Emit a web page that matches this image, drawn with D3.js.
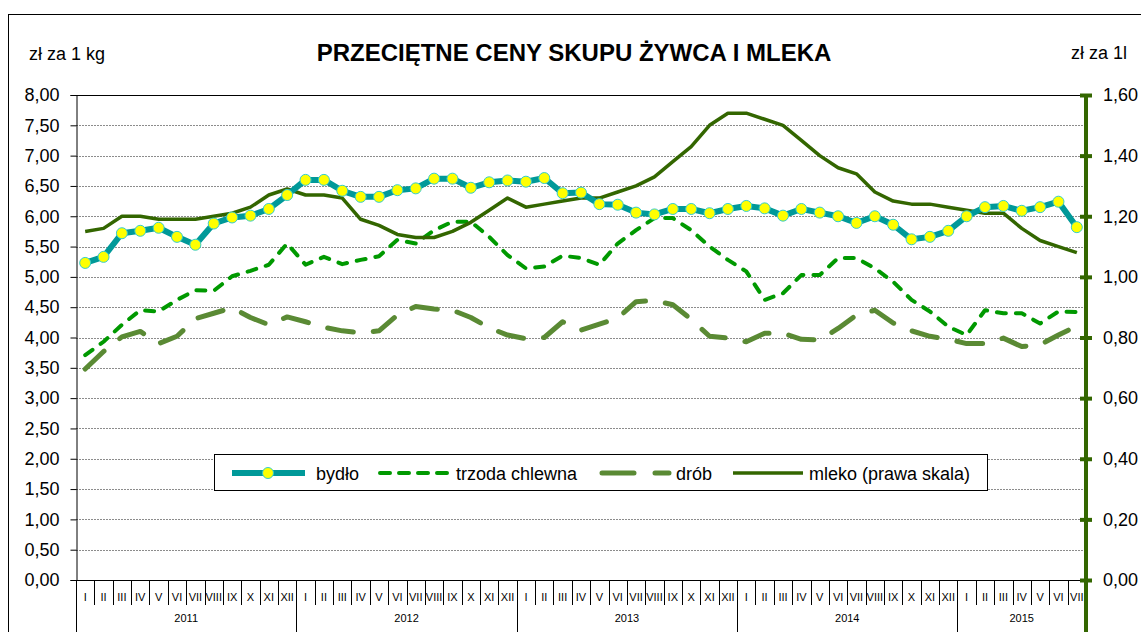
<!DOCTYPE html>
<html>
<head>
<meta charset="utf-8">
<script src="https://cdn.jsdelivr.net/npm/d3@7"></script>
<style>
  body { margin: 0; background: #fff; }
  svg { font-family: Arial, "Liberation Sans", sans-serif; }
</style>
</head>
<body>
<div id="chart"></div>
<script>
const years = ["2011", "2012", "2013", "2014", "2015"];
const romans = ["I","II","III","IV","V","VI","VII","VIII","IX","X","XI","XII"];
const months = [];
years.forEach(yr => romans.forEach((r, i) => {
  if (yr !== "2015" || i < 7) months.push({ key: yr + "-" + (i + 1), label: r, year: yr });
}));

const bydlo = [5.23, 5.33, 5.72, 5.76, 5.81, 5.66, 5.53, 5.88, 5.98, 6.01, 6.12, 6.35,
  6.60, 6.60, 6.42, 6.32, 6.32, 6.43, 6.46, 6.62, 6.62, 6.47, 6.56, 6.59,
  6.57, 6.63, 6.38, 6.39, 6.20, 6.19, 6.06, 6.03, 6.12, 6.12, 6.05, 6.12,
  6.17, 6.13, 6.01, 6.12, 6.06, 6.00, 5.89, 6.00, 5.86, 5.62, 5.66, 5.76,
  6.00, 6.15, 6.17, 6.09, 6.15, 6.24, 5.82];

const trzoda = [3.71, 3.93, 4.21, 4.45, 4.43, 4.62, 4.78, 4.77, 5.01, 5.10, 5.20, 5.55,
  5.20, 5.33, 5.21, 5.28, 5.34, 5.61, 5.55, 5.77, 5.91, 5.91, 5.66, 5.36,
  5.14, 5.17, 5.35, 5.31, 5.20, 5.55, 5.77, 5.97, 5.97, 5.77, 5.50, 5.28,
  5.09, 4.62, 4.73, 5.03, 5.03, 5.31, 5.31, 5.14, 4.92, 4.62, 4.43, 4.18,
  4.04, 4.45, 4.40, 4.40, 4.23, 4.43, 4.42];

const drob = [3.48, 3.77, 4.01, 4.10, 3.90, 4.02, 4.31, 4.40, 4.49, 4.33, 4.21, 4.34,
  4.26, 4.17, 4.11, 4.08, 4.11, 4.37, 4.51, 4.47, 4.45, 4.33, 4.16, 4.04,
  3.98, 4.00, 4.26, 4.12, 4.22, 4.32, 4.59, 4.61, 4.54, 4.30, 4.02, 3.99,
  3.93, 4.07, 4.07, 3.97, 3.96, 4.15, 4.37, 4.45, 4.24, 4.11, 4.02, 3.97,
  3.90, 3.90, 3.99, 3.85, 3.88, 4.04, 4.19];

const mleko = [1.15, 1.16, 1.20, 1.20, 1.19, 1.19, 1.19, 1.20, 1.21, 1.23, 1.27, 1.29,
  1.27, 1.27, 1.26, 1.19, 1.17, 1.14, 1.13, 1.13, 1.15, 1.18, 1.22, 1.26,
  1.23, 1.24, 1.25, 1.26, 1.26, 1.28, 1.30, 1.33, 1.38, 1.43, 1.50, 1.54,
  1.54, 1.52, 1.50, 1.45, 1.40, 1.36, 1.34, 1.28, 1.25, 1.24, 1.24, 1.23,
  1.22, 1.21, 1.21, 1.16, 1.12, 1.10, 1.08];

const leftTicks = d3.range(0, 8.001, 0.5);
const rightTicks = d3.range(0, 1.601, 0.2);

const W = 1141, H = 632;
const mLeft = 76, mRight = 1086, mTop = 95, mBottom = 580;
const fmt = v => v.toFixed(2).replace(".", ",");
const FS = 18;

const svg = d3.select("#chart").append("svg")
  .attr("width", W).attr("height", H);

// outer frame
svg.append("rect")
  .attr("x", 8.5).attr("y", 14.5)
  .attr("width", W).attr("height", H)
  .attr("fill", "none").attr("stroke", "#000").attr("stroke-width", 1);

const x = d3.scaleBand()
  .domain(months.map(d => d.key))
  .range([mLeft, mRight]);
const y = d3.scaleLinear().domain([0, 8]).range([mBottom, mTop]);
const y2 = d3.scaleLinear().domain([0, 1.6]).range([mBottom, mTop]);
const cx = i => x(months[i].key) + x.bandwidth() / 2;

// grid
svg.append("g").selectAll("line")
  .data(leftTicks.filter(v => v > 0 && v < 8))
  .enter().append("line")
  .attr("x1", mLeft).attr("x2", mRight)
  .attr("y1", d => Math.round(y(d)) + 0.5).attr("y2", d => Math.round(y(d)) + 0.5)
  .attr("stroke", "#8c8c8c").attr("stroke-width", 1).attr("stroke-dasharray", "2,1");

svg.append("line")
  .attr("x1", mLeft).attr("x2", mRight)
  .attr("y1", Math.round(y(8)) + 0.5).attr("y2", Math.round(y(8)) + 0.5)
  .attr("stroke", "#000");

// left axis
const gl = svg.append("g")
  .attr("transform", `translate(${mLeft + 0.5},0)`)
  .call(d3.axisLeft(y).tickValues(leftTicks).tickFormat(fmt).tickSize(6).tickPadding(11));
gl.select(".domain").attr("stroke", "#000");
gl.selectAll("text").attr("font-size", FS).attr("fill", "#000")
  .attr("font-family", "Arial, 'Liberation Sans', sans-serif");

// bottom axis line
svg.append("line")
  .attr("x1", mLeft).attr("x2", mRight)
  .attr("y1", mBottom + 0.5).attr("y2", mBottom + 0.5)
  .attr("stroke", "#000");

// month separators and labels
const gm = svg.append("g");
months.forEach((m, i) => {
  const xb = Math.round(x(m.key)) + 0.5;
  const isYear = m.label === "I";
  gm.append("line")
    .attr("x1", xb).attr("x2", xb)
    .attr("y1", mBottom).attr("y2", isYear ? H : 605)
    .attr("stroke", "#000").attr("stroke-width", 1);
  gm.append("text")
    .attr("x", cx(i)).attr("y", 601)
    .attr("text-anchor", "middle").attr("font-size", 11)
    .text(m.label);
});
const lastX = Math.round(x(months[months.length - 1].key) + x.bandwidth()) + 0.5;
gm.append("line").attr("x1", lastX).attr("x2", lastX)
  .attr("y1", mBottom).attr("y2", H).attr("stroke", "#000");

years.forEach(yr => {
  const idx = months.map((m, i) => m.year === yr ? i : -1).filter(i => i >= 0);
  const x0 = x(months[idx[0]].key);
  const x1 = x(months[idx[idx.length - 1]].key) + x.bandwidth();
  gm.append("text")
    .attr("x", (x0 + x1) / 2).attr("y", 622)
    .attr("text-anchor", "middle").attr("font-size", 11)
    .text(yr);
});

// lines
const lineL = d3.line().x((d, i) => cx(i)).y(d => y(d));
const lineR = d3.line().x((d, i) => cx(i)).y(d => y2(d));

svg.append("path").datum(drob)
  .attr("d", lineL).attr("fill", "none")
  .attr("stroke", "#5a8a34").attr("stroke-width", 5)
  .attr("stroke-linecap", "round").attr("stroke-linejoin", "round")
  .attr("stroke-dasharray", "26,20");

svg.append("path").datum(trzoda)
  .attr("d", lineL).attr("fill", "none")
  .attr("stroke", "#009900").attr("stroke-width", 4)
  .attr("stroke-linecap", "round").attr("stroke-linejoin", "round")
  .attr("stroke-dasharray", "9,10");

svg.append("path").datum(mleko)
  .attr("d", lineR).attr("fill", "none")
  .attr("stroke", "#336600").attr("stroke-width", 3.5)
  .attr("stroke-linejoin", "round");

svg.append("path").datum(bydlo)
  .attr("d", lineL).attr("fill", "none")
  .attr("stroke", "#009999").attr("stroke-width", 6)
  .attr("stroke-linejoin", "round");

svg.append("g").selectAll("circle")
  .data(bydlo).enter().append("circle")
  .attr("cx", (d, i) => cx(i)).attr("cy", d => y(d))
  .attr("r", 5.5)
  .attr("fill", "#ffff00").attr("stroke", "#33cccc").attr("stroke-width", 1);

// right axis
const gr = svg.append("g")
  .attr("transform", `translate(${mRight},0)`)
  .call(d3.axisRight(y2).tickValues(rightTicks).tickFormat(fmt).tickSize(0).tickPadding(17));
gr.select(".domain").remove();
gr.append("line").attr("x1", 0).attr("x2", 0)
  .attr("y1", mTop).attr("y2", H)
  .attr("stroke", "#336600").attr("stroke-width", 4);
gr.selectAll(".tick").append("line")
  .attr("x1", -6).attr("x2", 6).attr("y1", 0).attr("y2", 0)
  .attr("stroke", "#336600").attr("stroke-width", 4);
gr.selectAll("text").attr("font-size", FS).attr("fill", "#000")
  .attr("font-family", "Arial, 'Liberation Sans', sans-serif");

// titles
svg.append("text")
  .attr("x", 574).attr("y", 61)
  .attr("text-anchor", "middle").attr("font-size", 24).attr("font-weight", "bold")
  .text("PRZECIĘTNE CENY SKUPU ŻYWCA I MLEKA");
svg.append("text")
  .attr("x", 29).attr("y", 60).attr("font-size", FS)
  .text("zł za 1 kg");
svg.append("text")
  .attr("x", 1127).attr("y", 59).attr("text-anchor", "end").attr("font-size", FS)
  .text("zł za 1l");

// legend
const lg = svg.append("g");
lg.append("rect")
  .attr("x", 214.5).attr("y", 454.5).attr("width", 773).attr("height", 36)
  .attr("fill", "#fff").attr("stroke", "#000").attr("stroke-width", 1);
const ly = 473;
lg.append("line").attr("x1", 232).attr("x2", 305).attr("y1", ly).attr("y2", ly)
  .attr("stroke", "#009999").attr("stroke-width", 6);
lg.append("circle").attr("cx", 268).attr("cy", ly).attr("r", 5.5)
  .attr("fill", "#ffff00").attr("stroke", "#33cccc");
lg.append("text").attr("x", 316).attr("y", ly + 6.5).attr("font-size", FS).text("bydło");

lg.append("line").attr("x1", 380).attr("x2", 449).attr("y1", ly).attr("y2", ly)
  .attr("stroke", "#009900").attr("stroke-width", 4)
  .attr("stroke-linecap", "round").attr("stroke-dasharray", "10,9");
lg.append("text").attr("x", 456).attr("y", ly + 6.5).attr("font-size", FS).text("trzoda chlewna");

lg.append("line").attr("x1", 602).attr("x2", 669).attr("y1", ly).attr("y2", ly)
  .attr("stroke", "#5a8a34").attr("stroke-width", 5)
  .attr("stroke-linecap", "round").attr("stroke-dasharray", "32,21");
lg.append("text").attr("x", 676).attr("y", ly + 6.5).attr("font-size", FS).text("drób");

lg.append("line").attr("x1", 733).attr("x2", 803).attr("y1", ly).attr("y2", ly)
  .attr("stroke", "#336600").attr("stroke-width", 3.5);
lg.append("text").attr("x", 809).attr("y", ly + 6.5).attr("font-size", FS).text("mleko (prawa skala)");
</script>
</body>
</html>
